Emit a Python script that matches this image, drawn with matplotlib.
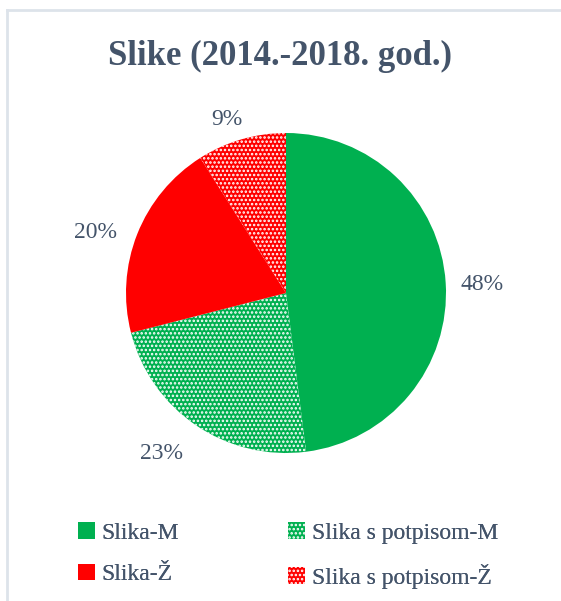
import numpy as np
import matplotlib.pyplot as plt
from matplotlib.patches import Rectangle
from matplotlib.lines import Line2D

categories = ["Slika-M", "Slika s potpisom-M", "Slika-Ž", "Slika s potpisom-Ž"]
shares = [48, 23, 20, 9]
colors = ["#00B050", "#00B050", "#FF0000", "#FF0000"]
hatches = [None, "....", None, "...."]

# per-label placement: distance from centre (radius units) and turn (degrees)
label_dist = [1.23, 1.26, 1.25, 1.155]
label_turn = [-0.7, -4.0, 3.5, 2.4]

text_color = "#44546A"
plt.rcParams["font.family"] = ["Liberation Serif", "DejaVu Serif"]
plt.rcParams["hatch.linewidth"] = 1.2

W, H = 561, 601
fig = plt.figure(figsize=(W / 100, H / 100), dpi=100)

# light chart border (left and top edges visible)
fig.add_artist(Line2D([7 / W, 7 / W], [0, 1 - 10 / H], color="#DDE3EA", lw=2))
fig.add_artist(Line2D([7 / W, 1], [1 - 10 / H, 1 - 10 / H], color="#DDE3EA", lw=2))

cx, cy, r = 286, 293, 160
ax = fig.add_axes([(cx - r) / W, 1 - (cy + r) / H, 2 * r / W, 2 * r / H])
wedges, texts, autotexts = ax.pie(
    shares,
    colors=colors,
    startangle=90,
    counterclock=False,
    autopct="%d%%",
    pctdistance=1.23,
    wedgeprops=dict(linewidth=0),
    textprops=dict(color=text_color, fontsize=17),
)
for w, h in zip(wedges, hatches):
    if h:
        w.set_hatch(h)
        w.set_edgecolor("white")
        w.set_linewidth(0)

for w, t, d, turn in zip(wedges, autotexts, label_dist, label_turn):
    mid = np.deg2rad((w.theta1 + w.theta2) / 2 + turn)
    t.set_position((d * np.cos(mid), d * np.sin(mid) - 0.012))

ax.set_xlim(-1, 1)
ax.set_ylim(-1, 1)
ax.set_aspect("equal")

fig.text(0.5, 1 - 56 / H, "Slike (2014.-2018. god.)", ha="center", va="center",
         fontsize=25, fontweight="bold", color=text_color)

handles = []
for c, h in zip(colors, hatches):
    handles.append(Rectangle((0, 0), 1, 1, facecolor=c,
                             edgecolor="white" if h else c, hatch=h, linewidth=0))

# two legend columns placed side by side
for idx, x0 in [((0, 2), 78), ((1, 3), 288)]:
    leg = fig.legend([handles[i] for i in idx], [categories[i] for i in idx],
                     loc="upper left", bbox_to_anchor=(x0 / W, 1 - 522 / H),
                     frameon=False, fontsize=17, labelcolor=text_color,
                     handlelength=0.7, handleheight=0.7, handletextpad=0.3,
                     labelspacing=0.85, borderpad=0, borderaxespad=0)
    fig.add_artist(leg)

fig.savefig("out.png", dpi=100)
